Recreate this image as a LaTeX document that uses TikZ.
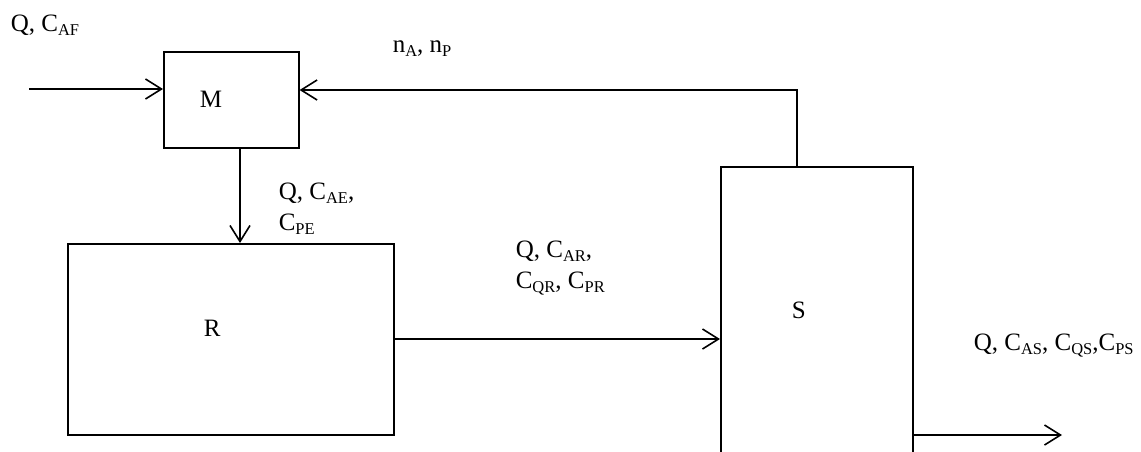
\documentclass[tikz,border=0pt]{standalone}
\usepackage{fontspec}
\setmainfont{Liberation Serif}
\usetikzlibrary{arrows.meta}
\newcommand{\sbs}[1]{\raisebox{-0.16em}{\fontsize{16.5}{16.5}\selectfont #1}}
\begin{document}
\begin{tikzpicture}[x=1pt,y=-1pt, line width=1.6pt,
  box/.style={draw, rectangle, inner sep=0pt, anchor=north west},
  flow/.style={-{Straight Barb[length=16pt,width=20pt,line width=1.6pt]}},
  lbl/.style={anchor=base west, inner sep=0pt, font=\fontsize{25}{31}\selectfont, align=left}]
\useasboundingbox (0,0) rectangle (1141,451);
% boxes
\node[box, minimum width=135pt, minimum height=96pt] (M) at (163,51) {};
\node[box, minimum width=326pt, minimum height=191pt] (R) at (67,243) {};
\node[box, minimum width=192pt, minimum height=292pt] (S) at (720,166) {};
% box texts
\node[lbl] (Mt) at (199,107) {M};
\node[lbl] (Rt) at (203,336) {R};
\node[lbl] (St) at (791,318) {S};
% helper coordinates
\coordinate (in) at (29,89);
\coordinate (rc) at (797,90);
\coordinate (dn) at (240,0);
\coordinate (rs) at (0,339);
\coordinate (out) at (1062,435);
% connectors
\draw[flow] (in) -- (in -| M.west);
\draw[flow] (rc |- S.north) -- (rc) -- (rc -| M.east);
\draw[flow] (dn |- M.south) -- (dn |- R.north);
\draw[flow] (R.east |- rs) -- (S.west |- rs);
\draw[flow] (S.east |- out) -- (out);
% labels
\node[lbl] (l1) at (10,31) {Q, C\sbs{AF}};
\node[lbl] (l2) at (392,52) {n\sbs{A}, n\sbs{P}};
\node[lbl] (l3) at (278,230) {Q, C\sbs{AE},\\C\sbs{PE}};
\node[lbl] (l4) at (515,288) {Q, C\sbs{AR},\\C\sbs{QR}, C\sbs{PR}};
\node[lbl] (l5) at (973,350) {Q, C\sbs{AS}, C\sbs{QS},C\sbs{PS}};
\end{tikzpicture}
\end{document}
